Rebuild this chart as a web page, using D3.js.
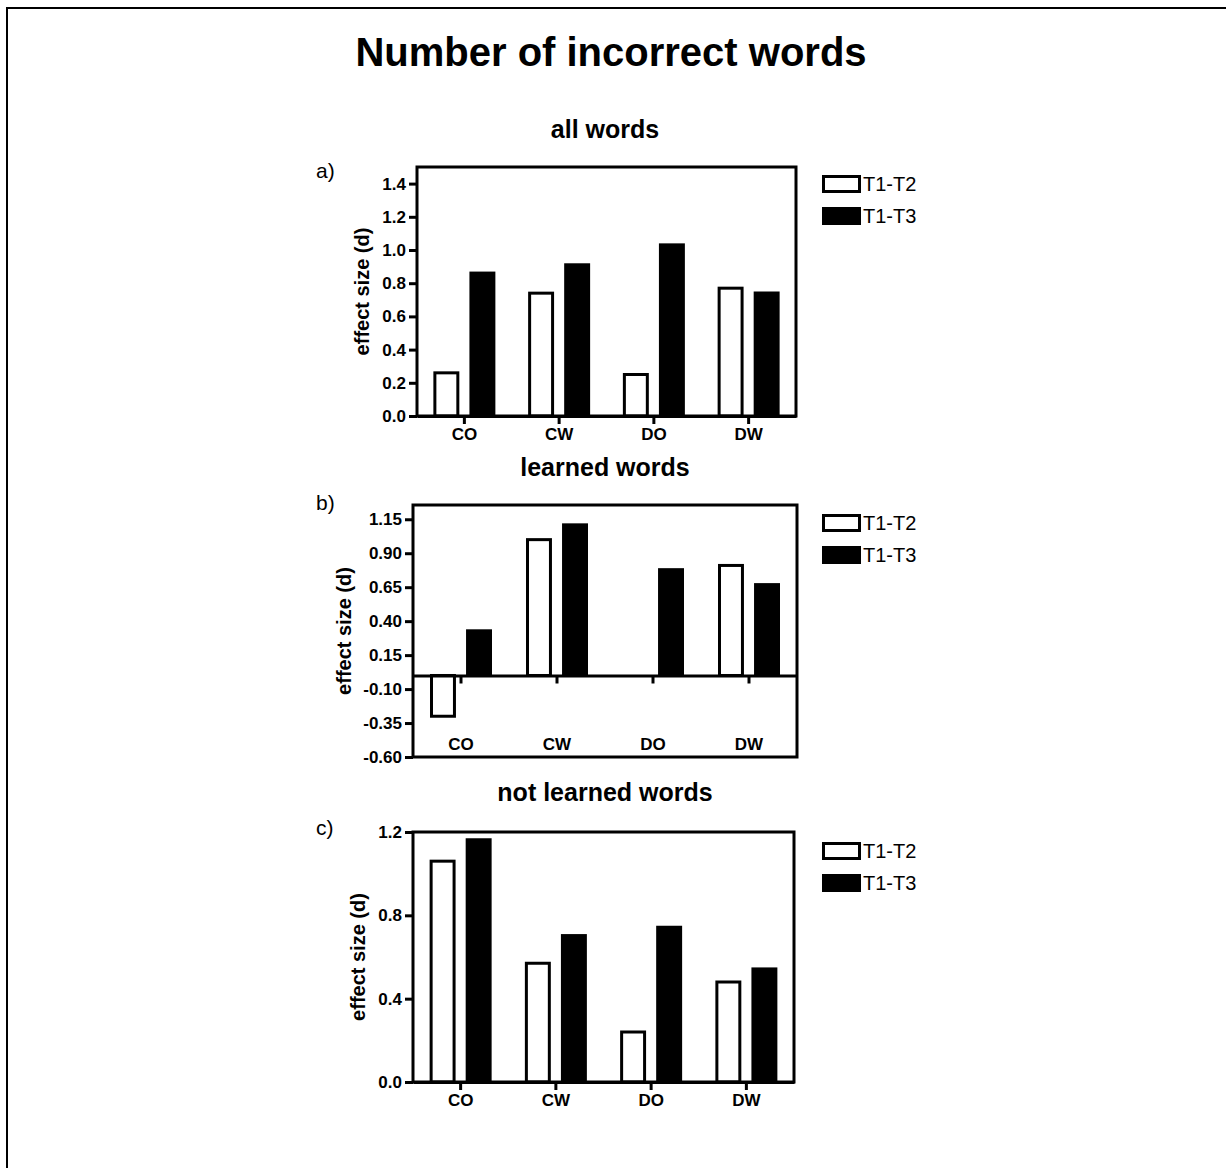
<!DOCTYPE html>
<html lang="en">

<head>
    <meta charset="UTF-8">
    <script src="https://d3js.org/d3.v7.min.js"></script>
    <title>Number of incorrect words</title>
    <style>
        body { margin: 0; background: #fff; }
        text { font-family: Arial, "Liberation Sans", sans-serif; fill: #000; }
    </style>
</head>

<body>
    <div id="chart"></div>
    <script>
        // Data (effect sizes)
        const categories = ["CO", "CW", "DO", "DW"];
        const seriesNames = ["T1-T2", "T1-T3"];

        const allWordsT1T2 = [0.26, 0.74, 0.25, 0.77];
        const allWordsT1T3 = [0.87, 0.92, 1.04, 0.75];
        const learnedT1T2 = [-0.30, 1.00, 0.00, 0.81];
        const learnedT1T3 = [0.34, 1.12, 0.79, 0.68];
        const notLearnedT1T2 = [1.06, 0.57, 0.24, 0.48];
        const notLearnedT1T3 = [1.17, 0.71, 0.75, 0.55];

        const ticksAll = [0, 0.2, 0.4, 0.6, 0.8, 1.0, 1.2, 1.4];
        const ticksLearned = [-0.60, -0.35, -0.10, 0.15, 0.40, 0.65, 0.90, 1.15];
        const ticksNotLearned = [0, 0.4, 0.8, 1.2];

        const width = 1226;
        const height = 1168;
        const font = "Arial, 'Liberation Sans', sans-serif";

        const svg = d3.select("#chart")
            .append("svg")
            .attr("width", width)
            .attr("height", height);

        svg.append("rect")
            .attr("width", width)
            .attr("height", height)
            .attr("fill", "#fff");

        // page frame (only top and left edges are visible)
        svg.append("path")
            .attr("d", `M7,${height} V8 H${width}`)
            .attr("fill", "none")
            .attr("stroke", "#000")
            .attr("stroke-width", 2);

        // Title
        svg.append("text")
            .attr("x", 611)
            .attr("y", 66)
            .attr("text-anchor", "middle")
            .attr("font-size", 40)
            .attr("font-weight", 700)
            .text("Number of incorrect words");

        const panels = [
            {
                letter: "a)", subtitle: "all words", t12: allWordsT1T2, t13: allWordsT1T3,
                ticks: ticksAll, digits: 1, domain: [0, 1.5],
                left: 417, right: 796, top: 167, bottom: 416,
                subY: 138, letterY: 178, labelX: 362, legendY: 175, labelsInside: false
            },
            {
                letter: "b)", subtitle: "learned words", t12: learnedT1T2, t13: learnedT1T3,
                ticks: ticksLearned, digits: 2, domain: [-0.6, 1.255],
                left: 413, right: 797, top: 505, bottom: 757,
                subY: 476, letterY: 510, labelX: 344, legendY: 514, labelsInside: true
            },
            {
                letter: "c)", subtitle: "not learned words", t12: notLearnedT1T2, t13: notLearnedT1T3,
                ticks: ticksNotLearned, digits: 1, domain: [0, 1.2],
                left: 413, right: 794, top: 832, bottom: 1082,
                subY: 801, letterY: 835, labelX: 358, legendY: 842, labelsInside: false
            }
        ];

        panels.forEach(drawPanel);

        function drawPanel(p) {
            const g = svg.append("g");

            const x = d3.scaleBand()
                .domain(categories)
                .range([p.left, p.right]);

            const xSeries = d3.scaleBand()
                .domain(seriesNames)
                .range([-31, 31])
                .paddingInner(0.28);

            const y = d3.scaleLinear()
                .domain(p.domain)
                .range([p.bottom, p.top]);

            const rows = [];
            categories.forEach((c, i) => {
                rows.push({ cat: c, series: "T1-T2", value: p.t12[i] });
                rows.push({ cat: c, series: "T1-T3", value: p.t13[i] });
            });

            // bars
            g.append("g")
                .selectAll("rect")
                .data(rows.filter(d => d.value !== 0))
                .join("rect")
                .attr("x", d => x(d.cat) + x.bandwidth() / 2 + xSeries(d.series) + (d.series === "T1-T2" ? 1.5 : 0))
                .attr("width", d => xSeries.bandwidth() - (d.series === "T1-T2" ? 3 : 0))
                .attr("y", d => y(Math.max(d.value, 0)))
                .attr("height", d => Math.abs(y(d.value) - y(0)))
                .attr("fill", d => d.series === "T1-T2" ? "#fff" : "#000")
                .attr("stroke", d => d.series === "T1-T2" ? "#000" : "none")
                .attr("stroke-width", 3);

            // plot frame
            g.append("rect")
                .attr("x", p.left)
                .attr("y", p.top)
                .attr("width", p.right - p.left)
                .attr("height", p.bottom - p.top)
                .attr("fill", "none")
                .attr("stroke", "#000")
                .attr("stroke-width", 3);

            // y axis
            const yAxis = g.append("g")
                .attr("transform", `translate(${p.left},0)`)
                .call(d3.axisLeft(y)
                    .tickValues(p.ticks)
                    .tickFormat(d => d.toFixed(p.digits))
                    .tickSize(8)
                    .tickPadding(3));
            yAxis.attr("font-size", 17).attr("font-family", font).attr("font-weight", 700);
            yAxis.select(".domain").remove();
            yAxis.selectAll("line").attr("stroke-width", 3);

            // x axis at zero
            const xAxis = g.append("g")
                .attr("transform", `translate(0,${y(0)})`)
                .call(d3.axisBottom(x)
                    .tickSizeInner(8)
                    .tickSizeOuter(0)
                    .tickPadding(4));
            xAxis.attr("font-size", 17).attr("font-family", font).attr("font-weight", 700);
            xAxis.select(".domain").attr("stroke-width", 3);
            xAxis.selectAll("line").attr("stroke-width", 3);
            if (p.labelsInside) {
                xAxis.selectAll("text")
                    .attr("y", p.bottom - y(0) - 7)
                    .attr("dy", 0);
            }

            // y label
            g.append("text")
                .attr("transform", `translate(${p.labelX},${(p.top + p.bottom) / 2}) rotate(-90)`)
                .attr("text-anchor", "middle")
                .attr("dy", "0.35em")
                .attr("font-size", 20)
                .attr("font-weight", 700)
                .text("effect size (d)");

            // subtitle
            g.append("text")
                .attr("x", 605)
                .attr("y", p.subY)
                .attr("text-anchor", "middle")
                .attr("font-size", 25)
                .attr("font-weight", 700)
                .text(p.subtitle);

            // panel letter
            g.append("text")
                .attr("x", 316)
                .attr("y", p.letterY)
                .attr("font-size", 21)
                .text(p.letter);

            // legend
            const legend = g.append("g")
                .attr("transform", `translate(822,${p.legendY})`);
            const items = legend.selectAll("g")
                .data(seriesNames)
                .join("g")
                .attr("transform", (d, i) => `translate(0,${i * 32})`);
            items.append("rect")
                .attr("x", d => d === "T1-T2" ? 1.5 : 0)
                .attr("y", d => d === "T1-T2" ? 1.5 : 0)
                .attr("width", d => d === "T1-T2" ? 36 : 39)
                .attr("height", d => d === "T1-T2" ? 15 : 18)
                .attr("fill", d => d === "T1-T2" ? "#fff" : "#000")
                .attr("stroke", d => d === "T1-T2" ? "#000" : "none")
                .attr("stroke-width", 3);
            items.append("text")
                .attr("x", 41)
                .attr("y", 9)
                .attr("dy", "0.35em")
                .attr("font-size", 20)
                .text(d => d);
        }
    </script>
</body>

</html>
